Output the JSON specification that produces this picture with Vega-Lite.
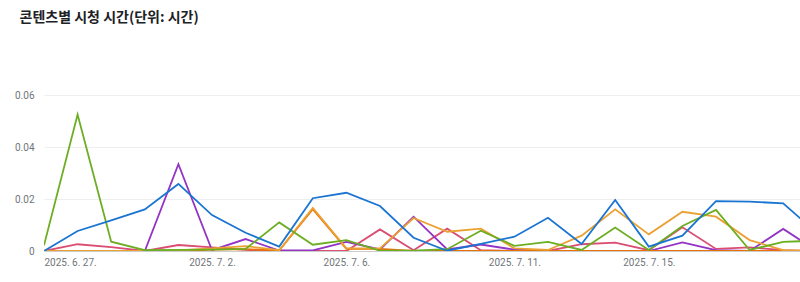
{
  "$schema": "https://vega.github.io/schema/vega-lite/v6.json",
  "width": 756,
  "height": 156,
  "autosize": {"type": "none"},
  "padding": {"left": 44, "top": 95, "right": 0, "bottom": 31},
  "background": "white",
  "config": {"view": {"stroke": null}},
  "title": {
    "text": "콘텐츠별 시청 시간(단위: 시간)",
    "anchor": "start",
    "offset": 65,
    "dx": 5,
    "font": "Noto Sans CJK KR",
    "fontSize": 14,
    "fontWeight": "bold",
    "color": "#202124"
  },
  "data": {
    "values": [
      {"d": "2025/06/27", "s": "E", "v": 0},
      {"d": "2025/06/28", "s": "E", "v": 0.0026},
      {"d": "2025/06/29", "s": "E", "v": 0.0015},
      {"d": "2025/06/30", "s": "E", "v": 0},
      {"d": "2025/07/01", "s": "E", "v": 0.0023},
      {"d": "2025/07/02", "s": "E", "v": 0.0014},
      {"d": "2025/07/03", "s": "E", "v": 0.0004},
      {"d": "2025/07/04", "s": "E", "v": 0},
      {"d": "2025/07/05", "s": "E", "v": 0},
      {"d": "2025/07/06", "s": "E", "v": 0},
      {"d": "2025/07/07", "s": "E", "v": 0.0083},
      {"d": "2025/07/08", "s": "E", "v": 0.0003},
      {"d": "2025/07/09", "s": "E", "v": 0.0086},
      {"d": "2025/07/10", "s": "E", "v": 0.0003},
      {"d": "2025/07/11", "s": "E", "v": 0},
      {"d": "2025/07/12", "s": "E", "v": 0},
      {"d": "2025/07/13", "s": "E", "v": 0.0026},
      {"d": "2025/07/14", "s": "E", "v": 0.0032},
      {"d": "2025/07/15", "s": "E", "v": 0.0003},
      {"d": "2025/07/16", "s": "E", "v": 0.0091},
      {"d": "2025/07/17", "s": "E", "v": 0.0008},
      {"d": "2025/07/18", "s": "E", "v": 0.0014},
      {"d": "2025/07/19", "s": "E", "v": 0.0003},
      {"d": "2025/07/20", "s": "E", "v": 0},

      {"d": "2025/06/27", "s": "C", "v": 0},
      {"d": "2025/06/28", "s": "C", "v": 0},
      {"d": "2025/06/29", "s": "C", "v": 0},
      {"d": "2025/06/30", "s": "C", "v": 0},
      {"d": "2025/07/01", "s": "C", "v": 0.0334},
      {"d": "2025/07/02", "s": "C", "v": 0.0003},
      {"d": "2025/07/03", "s": "C", "v": 0.0046},
      {"d": "2025/07/04", "s": "C", "v": 0.0002},
      {"d": "2025/07/05", "s": "C", "v": 0.0002},
      {"d": "2025/07/06", "s": "C", "v": 0.0035},
      {"d": "2025/07/07", "s": "C", "v": 0.0006},
      {"d": "2025/07/08", "s": "C", "v": 0.0132},
      {"d": "2025/07/09", "s": "C", "v": 0.0006},
      {"d": "2025/07/10", "s": "C", "v": 0.0025},
      {"d": "2025/07/11", "s": "C", "v": 0.0005},
      {"d": "2025/07/12", "s": "C", "v": 0},
      {"d": "2025/07/13", "s": "C", "v": 0},
      {"d": "2025/07/14", "s": "C", "v": 0},
      {"d": "2025/07/15", "s": "C", "v": 0},
      {"d": "2025/07/16", "s": "C", "v": 0.0033},
      {"d": "2025/07/17", "s": "C", "v": 0.0003},
      {"d": "2025/07/18", "s": "C", "v": 0},
      {"d": "2025/07/19", "s": "C", "v": 0.0085},
      {"d": "2025/07/20", "s": "C", "v": 0},

      {"d": "2025/06/27", "s": "F", "v": 0},
      {"d": "2025/06/28", "s": "F", "v": 0},
      {"d": "2025/06/29", "s": "F", "v": 0},
      {"d": "2025/06/30", "s": "F", "v": 0},
      {"d": "2025/07/01", "s": "F", "v": 0},
      {"d": "2025/07/02", "s": "F", "v": 0.0005},
      {"d": "2025/07/03", "s": "F", "v": 0.0007},
      {"d": "2025/07/04", "s": "F", "v": 0.0002},
      {"d": "2025/07/05", "s": "F", "v": 0.0161},
      {"d": "2025/07/06", "s": "F", "v": 0.0008},
      {"d": "2025/07/07", "s": "F", "v": 0.0008},
      {"d": "2025/07/08", "s": "F", "v": 0},
      {"d": "2025/07/09", "s": "F", "v": 0},
      {"d": "2025/07/10", "s": "F", "v": 0},
      {"d": "2025/07/11", "s": "F", "v": 0},
      {"d": "2025/07/12", "s": "F", "v": 0},
      {"d": "2025/07/13", "s": "F", "v": 0},
      {"d": "2025/07/14", "s": "F", "v": 0},
      {"d": "2025/07/15", "s": "F", "v": 0},
      {"d": "2025/07/16", "s": "F", "v": 0},
      {"d": "2025/07/17", "s": "F", "v": 0},
      {"d": "2025/07/18", "s": "F", "v": 0},
      {"d": "2025/07/19", "s": "F", "v": 0},
      {"d": "2025/07/20", "s": "F", "v": 0},

      {"d": "2025/06/27", "s": "D", "v": 0},
      {"d": "2025/06/28", "s": "D", "v": 0},
      {"d": "2025/06/29", "s": "D", "v": 0},
      {"d": "2025/06/30", "s": "D", "v": 0},
      {"d": "2025/07/01", "s": "D", "v": 0.0002},
      {"d": "2025/07/02", "s": "D", "v": 0.001},
      {"d": "2025/07/03", "s": "D", "v": 0.0019},
      {"d": "2025/07/04", "s": "D", "v": 0.0003},
      {"d": "2025/07/05", "s": "D", "v": 0.0166},
      {"d": "2025/07/06", "s": "D", "v": 0.001},
      {"d": "2025/07/07", "s": "D", "v": 0.001},
      {"d": "2025/07/08", "s": "D", "v": 0.0127},
      {"d": "2025/07/09", "s": "D", "v": 0.0074},
      {"d": "2025/07/10", "s": "D", "v": 0.0086},
      {"d": "2025/07/11", "s": "D", "v": 0.001},
      {"d": "2025/07/12", "s": "D", "v": 0.0004},
      {"d": "2025/07/13", "s": "D", "v": 0.0059},
      {"d": "2025/07/14", "s": "D", "v": 0.016},
      {"d": "2025/07/15", "s": "D", "v": 0.0064},
      {"d": "2025/07/16", "s": "D", "v": 0.0151},
      {"d": "2025/07/17", "s": "D", "v": 0.0132},
      {"d": "2025/07/18", "s": "D", "v": 0.0042},
      {"d": "2025/07/19", "s": "D", "v": 0.0003},
      {"d": "2025/07/20", "s": "D", "v": 0},

      {"d": "2025/06/27", "s": "B", "v": 0.0022},
      {"d": "2025/06/28", "s": "B", "v": 0.0525},
      {"d": "2025/06/29", "s": "B", "v": 0.0036},
      {"d": "2025/06/30", "s": "B", "v": 0.0003},
      {"d": "2025/07/01", "s": "B", "v": 0.0004},
      {"d": "2025/07/02", "s": "B", "v": 0.0005},
      {"d": "2025/07/03", "s": "B", "v": 0.0008},
      {"d": "2025/07/04", "s": "B", "v": 0.011},
      {"d": "2025/07/05", "s": "B", "v": 0.0024},
      {"d": "2025/07/06", "s": "B", "v": 0.0042},
      {"d": "2025/07/07", "s": "B", "v": 0.0001},
      {"d": "2025/07/08", "s": "B", "v": 0.0001},
      {"d": "2025/07/09", "s": "B", "v": 0.0007},
      {"d": "2025/07/10", "s": "B", "v": 0.0078},
      {"d": "2025/07/11", "s": "B", "v": 0.002},
      {"d": "2025/07/12", "s": "B", "v": 0.0035},
      {"d": "2025/07/13", "s": "B", "v": 0.0004},
      {"d": "2025/07/14", "s": "B", "v": 0.009},
      {"d": "2025/07/15", "s": "B", "v": 0.0004},
      {"d": "2025/07/16", "s": "B", "v": 0.0096},
      {"d": "2025/07/17", "s": "B", "v": 0.0158},
      {"d": "2025/07/18", "s": "B", "v": 0.0004},
      {"d": "2025/07/19", "s": "B", "v": 0.0035},
      {"d": "2025/07/20", "s": "B", "v": 0.004},

      {"d": "2025/06/27", "s": "A", "v": 0},
      {"d": "2025/06/28", "s": "A", "v": 0.0077},
      {"d": "2025/06/29", "s": "A", "v": 0.0118},
      {"d": "2025/06/30", "s": "A", "v": 0.016},
      {"d": "2025/07/01", "s": "A", "v": 0.0258},
      {"d": "2025/07/02", "s": "A", "v": 0.0138},
      {"d": "2025/07/03", "s": "A", "v": 0.007},
      {"d": "2025/07/04", "s": "A", "v": 0.0017},
      {"d": "2025/07/05", "s": "A", "v": 0.0203},
      {"d": "2025/07/06", "s": "A", "v": 0.0224},
      {"d": "2025/07/07", "s": "A", "v": 0.0173},
      {"d": "2025/07/08", "s": "A", "v": 0.0051},
      {"d": "2025/07/09", "s": "A", "v": 0.0001},
      {"d": "2025/07/10", "s": "A", "v": 0.0027},
      {"d": "2025/07/11", "s": "A", "v": 0.0055},
      {"d": "2025/07/12", "s": "A", "v": 0.0128},
      {"d": "2025/07/13", "s": "A", "v": 0.0027},
      {"d": "2025/07/14", "s": "A", "v": 0.0196},
      {"d": "2025/07/15", "s": "A", "v": 0.0017},
      {"d": "2025/07/16", "s": "A", "v": 0.0059},
      {"d": "2025/07/17", "s": "A", "v": 0.0192},
      {"d": "2025/07/18", "s": "A", "v": 0.019},
      {"d": "2025/07/19", "s": "A", "v": 0.0183},
      {"d": "2025/07/20", "s": "A", "v": 0.007}
    ]
  },
  "mark": {"type": "line", "strokeWidth": 1.8, "clip": true},
  "encoding": {
    "x": {
      "field": "d",
      "type": "temporal",
      "scale": {"domain": [{"year": 2025, "month": 6, "date": 27}, {"year": 2025, "month": 7, "date": 19, "hours": 12}]},
      "axis": {
        "title": null,
        "values": [{"year": 2025, "month": 6, "date": 27}, {"year": 2025, "month": 7, "date": 2}, {"year": 2025, "month": 7, "date": 6}, {"year": 2025, "month": 7, "date": 11}, {"year": 2025, "month": 7, "date": 15}],
        "labelExpr": "timeFormat(datum.value, '%Y. %-m. %-d.')",
        "grid": false,
        "ticks": false,
        "domain": true,
        "domainColor": "#cccccc",
        "labelFlush": true,
        "labelFont": "Roboto",
        "labelFontSize": 10,
        "labelColor": "#70757a",
        "labelPadding": 6
      }
    },
    "y": {
      "field": "v",
      "type": "quantitative",
      "scale": {"domain": [0, 0.06], "nice": false},
      "axis": {
        "title": null,
        "values": [0, 0.02, 0.04, 0.06],
        "labelExpr": "datum.value == 0 ? '0' : format(datum.value, '.2f')",
        "ticks": false,
        "domain": false,
        "grid": true,
        "gridColor": "#eeeeee",
        "labelFont": "Roboto",
        "labelFontSize": 10,
        "labelColor": "#70757a",
        "labelPadding": 10
      }
    },
    "color": {
      "field": "s",
      "type": "nominal",
      "scale": {"domain": ["A", "B", "C", "D", "E", "F"], "range": ["#1a74d1", "#6cae22", "#9334c4", "#eba132", "#d94e72", "#e8710a"]},
      "legend": null
    }
  }
}
